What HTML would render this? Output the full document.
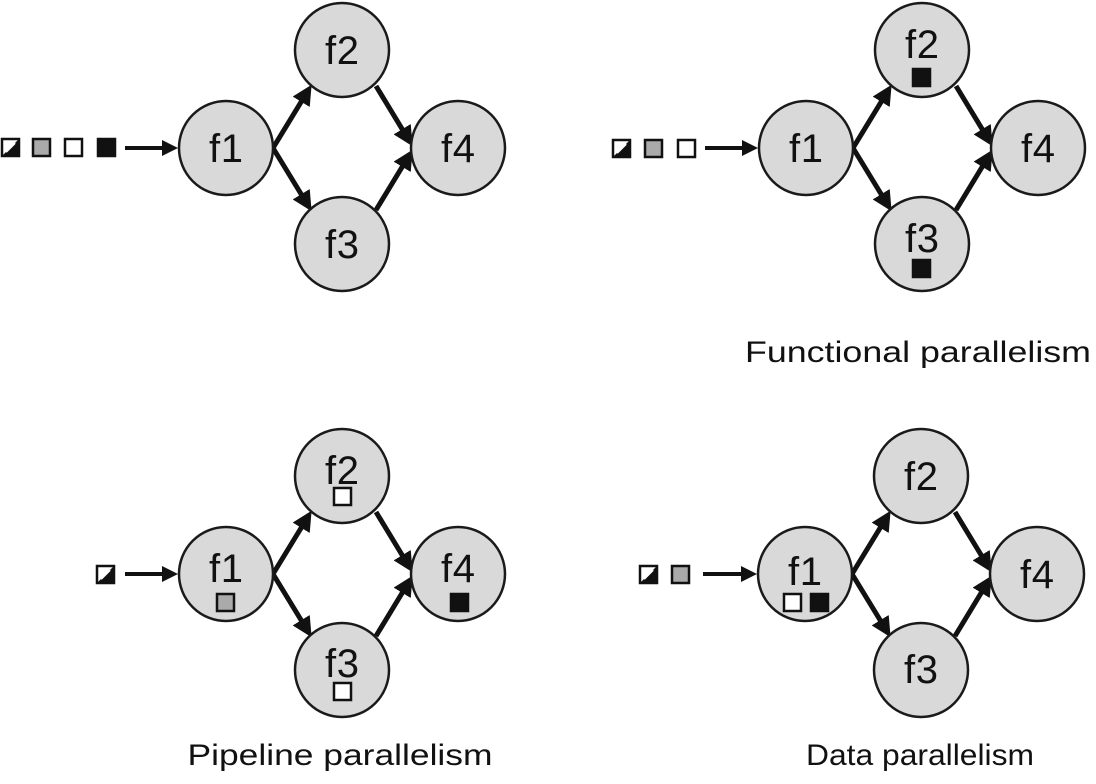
<!DOCTYPE html>
<html><head><meta charset="utf-8"><style>
html,body{margin:0;padding:0;background:#fff;width:1096px;height:784px;overflow:hidden}
svg{display:block}
text{font-family:"Liberation Sans",sans-serif;fill:#111}
</style></head><body>
<svg width="1096" height="784" viewBox="0 0 1096 784" xmlns="http://www.w3.org/2000/svg">
<defs>
<marker id="ah" markerWidth="4" markerHeight="4" refX="3" refY="2" orient="auto" markerUnits="strokeWidth">
<path d="M0,0 L4,2 L0,4 z" fill="#111"/></marker>
<g id="graph">
<g stroke="#111" stroke-width="5" fill="none" marker-end="url(#ah)">
<line x1="273" y1="148" x2="309" y2="89"/>
<line x1="273" y1="148" x2="309" y2="207"/>
<line x1="376" y1="86" x2="410" y2="142"/>
<line x1="376" y1="210" x2="410" y2="154"/>
</g>
<g fill="#d9d9d9" stroke="#1a1a1a" stroke-width="2.5">
<circle cx="226" cy="148" r="47"/>
<circle cx="342" cy="50" r="47"/>
<circle cx="342" cy="244" r="47"/>
<circle cx="458" cy="148" r="47"/>
</g>
</g>
<g id="hatch"><rect x="0" y="0" width="17" height="17" fill="#fff" stroke="#111" stroke-width="2.5"/><path d="M1,16 L16,1 L16,16 z" fill="#111"/><path d="M4,13 L13,4" stroke="#fff" stroke-width="2"/></g>
<rect id="gsq" x="0" y="0" width="17" height="17" fill="#aaa" stroke="#111" stroke-width="2.5"/>
<rect id="wsq" x="0" y="0" width="17" height="17" fill="#fff" stroke="#111" stroke-width="2.5"/>
<rect id="bsq" x="0" y="0" width="17" height="17" fill="#111" stroke="#111" stroke-width="2.5"/>
</defs>

<use href="#graph"/>
<g font-size="40" text-anchor="middle">
<text x="226" y="162" textLength="34">f1</text><text x="342" y="64" textLength="34">f2</text><text x="342" y="258" textLength="34">f3</text><text x="458" y="162" textLength="34">f4</text>
</g>
<use href="#hatch" x="2" y="139"/><use href="#gsq" x="33" y="139"/><use href="#wsq" x="65" y="139"/><use href="#bsq" x="98" y="139"/>
<line x1="125" y1="148" x2="174" y2="148" stroke="#111" stroke-width="4" marker-end="url(#ah)"/>

<g transform="translate(580,0)"><use href="#graph"/></g>
<g font-size="40" text-anchor="middle">
<text x="806" y="162" textLength="34">f1</text><text x="922" y="58" textLength="34">f2</text><text x="922" y="252" textLength="34">f3</text><text x="1038" y="162" textLength="34">f4</text>
</g>
<use href="#bsq" x="913" y="69"/><use href="#bsq" x="913" y="260"/>
<use href="#hatch" x="613" y="140"/><use href="#gsq" x="645" y="140"/><use href="#wsq" x="678" y="140"/>
<line x1="705" y1="148" x2="754" y2="148" stroke="#111" stroke-width="4" marker-end="url(#ah)"/>
<text x="918" y="362" font-size="30" text-anchor="middle" textLength="346" lengthAdjust="spacingAndGlyphs">Functional parallelism</text>

<g transform="translate(0,426)"><use href="#graph"/></g>
<g font-size="40" text-anchor="middle">
<text x="226" y="582" textLength="34">f1</text><text x="342" y="484" textLength="34">f2</text><text x="342" y="677" textLength="34">f3</text><text x="458" y="582" textLength="34">f4</text>
</g>
<use href="#gsq" x="217" y="594"/><use href="#wsq" x="334" y="488"/><use href="#wsq" x="334" y="683"/><use href="#bsq" x="451" y="594"/>
<use href="#hatch" x="97" y="566"/>
<line x1="125" y1="574" x2="174" y2="574" stroke="#111" stroke-width="4" marker-end="url(#ah)"/>
<text x="340" y="765" font-size="30" text-anchor="middle" textLength="305" lengthAdjust="spacingAndGlyphs">Pipeline parallelism</text>

<g transform="translate(579,426)"><use href="#graph"/></g>
<g font-size="40" text-anchor="middle">
<text x="805" y="585" textLength="34">f1</text><text x="921" y="490" textLength="34">f2</text><text x="921" y="683" textLength="34">f3</text><text x="1037" y="588" textLength="34">f4</text>
</g>
<use href="#wsq" x="784" y="594"/><use href="#bsq" x="811" y="594"/>
<use href="#hatch" x="640" y="566"/><use href="#gsq" x="672" y="566"/>
<line x1="703" y1="574" x2="753" y2="574" stroke="#111" stroke-width="4" marker-end="url(#ah)"/>
<text x="920" y="765" font-size="30" text-anchor="middle" textLength="228" lengthAdjust="spacingAndGlyphs">Data parallelism</text>
</svg>
</body></html>
